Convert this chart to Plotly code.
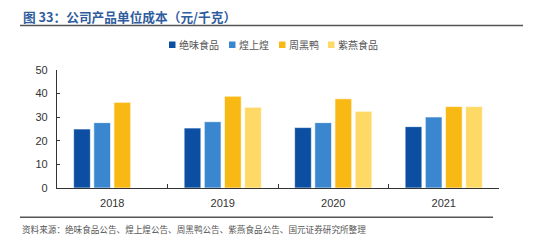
import plotly.graph_objects as go

years = ["2018", "2019", "2020", "2021"]
series_names = ["绝味食品", "煌上煌", "周黑鸭", "紫燕食品"]
juewei = [25.0, 25.4, 25.6, 26.0]
huangshanghuang = [27.7, 28.1, 27.7, 30.1]
zhouheiya = [36.3, 38.9, 37.8, 34.5]
ziyan = [None, 34.2, 32.5, 34.5]
y_ticks = [0, 10, 20, 30, 40, 50]
title_text = "图 33：公司产品单位成本（元/千克）"
source_text = "资料来源：绝味食品公告、煌上煌公告、周黑鸭公告、紫燕食品公告、国元证券研究所整理"

colors = ["#0B4EA2", "#3A87CF", "#F9B914", "#FFD966"]
values = [juewei, huangshanghuang, zhouheiya, ziyan]

W, H = 554, 240
L, R, T, B = 57, 55, 70, 52
pw, ph = W - L - R, H - T - B

def px_x(x):
    return (x - L) / pw

def px_y(y):
    return (H - B - y) / ph

fig = go.Figure()
for name, vals, c in zip(series_names, values, colors):
    fig.add_trace(go.Bar(
        x=years, y=vals, name=name,
        marker=dict(color=c, line=dict(color="rgba(255,255,255,0.8)", width=0.8)),
        showlegend=False,
    ))

cjk = "Noto Sans CJK SC"
# custom legend
leg_x = [169, 229, 279, 328]
for name, c, lx in zip(series_names, colors, leg_x):
    fig.add_shape(type="rect", xref="paper", yref="paper",
                  x0=px_x(lx), x1=px_x(lx + 6.5), y0=px_y(48), y1=px_y(41.5),
                  fillcolor=c, line=dict(width=0))
    fig.add_annotation(xref="paper", yref="paper", x=px_x(lx + 8), y=px_y(45),
                       text=name, showarrow=False, xanchor="left", yanchor="middle",
                       font=dict(family=cjk, size=10, color="#555555"))

# title
fig.add_annotation(xref="paper", yref="paper", x=px_x(21), y=px_y(16),
                   text="<b>" + title_text + "</b>", showarrow=False,
                   xanchor="left", yanchor="middle",
                   font=dict(family=cjk, size=12.7, color="#2F5D9E"))
fig.add_shape(type="line", xref="paper", yref="paper",
              x0=px_x(20), x1=px_x(523), y0=px_y(25.5), y1=px_y(25.5),
              line=dict(color="#555555", width=1.6))
fig.add_shape(type="line", xref="paper", yref="paper",
              x0=px_x(20), x1=px_x(493), y0=px_y(217.3), y1=px_y(217.3),
              line=dict(color="#555555", width=1.6))
fig.add_annotation(xref="paper", yref="paper", x=px_x(20), y=px_y(228.5),
                   text=source_text, showarrow=False,
                   xanchor="left", yanchor="middle",
                   font=dict(family=cjk, size=8.6, color="#555555"))

fig.update_layout(
    width=W, height=H,
    margin=dict(l=L, r=R, t=T, b=B, pad=0),
    paper_bgcolor="white", plot_bgcolor="white",
    barmode="group", bargap=0.27, bargroupgap=0.17,
    showlegend=False,
    font=dict(family="Liberation Sans, Arial", size=11, color="#404040"),
)
fig.update_xaxes(
    showline=True, linecolor="#333333", linewidth=1.3,
    ticks="inside", ticklen=4, tickcolor="#333333", tickson="boundaries",
    showgrid=False, tickfont=dict(size=11, color="#333333"),
    ticklabelstandoff=5,
)
fig.update_yaxes(
    range=[0, 50], tickvals=y_ticks, showline=True, linecolor="#333333", linewidth=1.3,
    ticks="inside", ticklen=3, tickcolor="#333333",
    showgrid=False, zeroline=False, tickfont=dict(size=11, color="#333333"),
    ticklabelstandoff=6,
)

fig.write_html("out.html")
